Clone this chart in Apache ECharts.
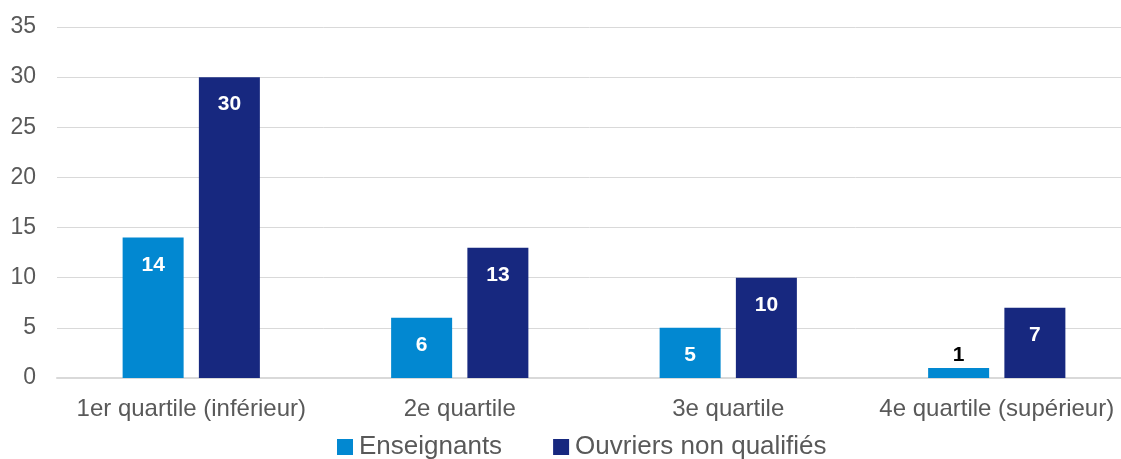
<!DOCTYPE html>
<html><head><meta charset="utf-8">
<script src="https://cdn.jsdelivr.net/npm/echarts@6/dist/echarts.min.js"></script>
<style>html,body{margin:0;padding:0;background:#fff}#c{width:1121px;height:459px}</style>
</head><body><div id="c"></div>
<script>
const categories = ['1er quartile (inférieur)', '2e quartile', '3e quartile', '4e quartile (supérieur)'];
const enseignants = [14, 6, 5, 1];
const ouvriers = [30, 13, 10, 7];
const seriesNames = ['Enseignants', 'Ouvriers non qualifiés'];
const yTicks = {min: 0, max: 35, interval: 5};

const chart = echarts.init(document.getElementById('c'));
const font = "'Liberation Sans', Arial, sans-serif";
const insideLabel = {show: true, position: 'insideTop', distance: 17, color: '#fff', fontWeight: 'bold', fontSize: 21, fontFamily: font};
chart.setOption({
  animation: false,
  grid: {left: 57, width: 1074, top: 27, height: 351, containLabel: false, outerBoundsMode: 'none'},
  legend: {
    top: 429, left: 332,
    itemWidth: 16, itemHeight: 16, itemGap: 51,
    icon: 'rect',
    textStyle: {fontFamily: font, fontSize: 26, color: '#595959', padding: [0, 0, 0, 1]},
    data: seriesNames
  },
  xAxis: {
    type: 'category', data: categories,
    axisLine: {lineStyle: {color: '#d9d9d9', width: 2}},
    axisTick: {show: false},
    axisLabel: {fontFamily: font, fontSize: 24, color: '#595959', margin: 19, interval: 0}
  },
  yAxis: {
    type: 'value', min: yTicks.min, max: yTicks.max, interval: yTicks.interval,
    axisLine: {show: false}, axisTick: {show: false},
    splitLine: {lineStyle: {color: '#d9d9d9', width: 1}},
    axisLabel: {fontFamily: font, fontSize: 23, color: '#595959', margin: 21}
  },
  series: [
    {
      name: seriesNames[0], type: 'bar', data: enseignants.map(v => ({
        value: v,
        label: v < 3 ? {position: 'top', distance: 2, color: '#000'} : {}
      })),
      barWidth: 61, barGap: '25%',
      itemStyle: {color: '#0288D1'},
      label: insideLabel
    },
    {
      name: seriesNames[1], type: 'bar', data: ouvriers,
      barWidth: 61, barGap: '25%',
      itemStyle: {color: '#17287F'},
      label: insideLabel
    }
  ]
});
</script></body></html>
